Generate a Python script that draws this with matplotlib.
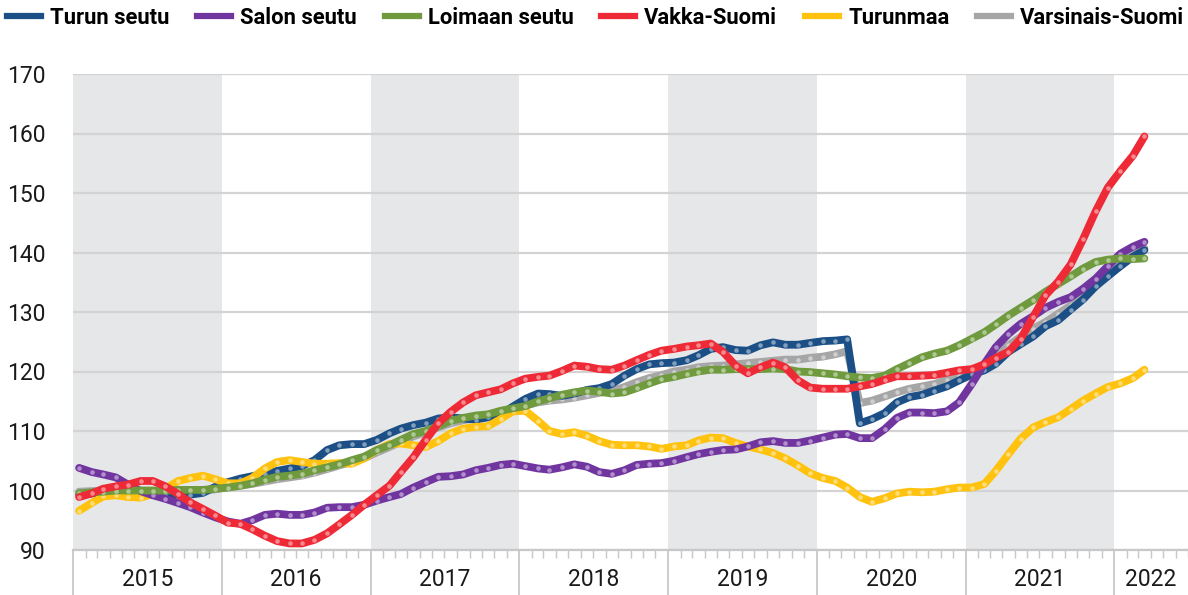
import numpy as np
import pandas as pd
import matplotlib
matplotlib.use("Agg")
import matplotlib.pyplot as plt
import matplotlib.dates as mdates
from matplotlib.transforms import blended_transform_factory

plt.rcParams['font.family'] = ['Roboto', 'DejaVu Sans']

# monthly index values, Jan 2015 - Mar 2022
months = pd.date_range("2015-01-01", "2022-03-01", freq="MS") + pd.Timedelta(days=15)

turku = [99.3, 99.5, 99.7, 99.8, 99.8, 99.7, 99.6, 99.4, 99.3, 99.3, 99.6, 100.6,
         101.4, 102.0, 102.4, 102.8, 103.3, 103.7, 104.1, 105.1, 106.8, 107.6, 107.8, 107.8,
         108.5, 109.6, 110.4, 111.0, 111.4, 112.1, 112.3, 112.1, 111.9, 112.3, 112.8, 114.1,
         115.4, 116.3, 116.2, 115.9, 116.3, 116.9, 117.2, 117.9, 119.3, 120.4, 121.2, 121.4,
         121.5, 121.9, 122.7, 123.8, 124.1, 123.6, 123.5, 124.4, 124.9, 124.5, 124.5, 124.8,
         125.1, 125.2, 125.4, 111.3, 112.0, 113.0, 114.8, 115.7, 116.1, 116.8, 117.5, 118.5,
         119.5, 120.2, 121.3, 123.3, 124.6, 125.9, 127.6, 128.6, 130.4, 132.1, 134.3, 136.0,
         137.7, 139.3, 140.4]
salo = [103.8, 103.1, 102.7, 102.2, 101.0, 99.9, 99.2, 98.6, 97.9, 97.2, 96.3, 95.5,
        94.8, 94.4, 95.0, 95.9, 96.1, 95.9, 95.9, 96.3, 97.1, 97.2, 97.2, 97.6,
        98.3, 98.9, 99.4, 100.5, 101.4, 102.3, 102.4, 102.7, 103.4, 103.8, 104.3, 104.5,
        104.1, 103.7, 103.5, 103.9, 104.4, 104.0, 103.1, 102.8, 103.4, 104.3, 104.5, 104.6,
        105.0, 105.6, 106.1, 106.5, 106.8, 106.9, 107.4, 108.1, 108.3, 108.0, 108.0, 108.4,
        108.9, 109.4, 109.5, 108.8, 108.8, 110.3, 112.2, 113.1, 113.1, 113.0, 113.3, 114.8,
        117.9, 121.3, 124.1, 126.3, 128.0, 129.3, 130.7, 131.7, 132.5, 133.9, 135.6, 137.7,
        139.8, 141.0, 141.8]
loimaa = [99.5, 99.7, 99.8, 100.0, 100.0, 100.0, 100.0, 100.0, 100.1, 100.1, 100.1, 100.3,
          100.5, 100.8, 101.2, 101.8, 102.3, 102.5, 102.8, 103.4, 103.9, 104.4, 105.1, 105.7,
          106.8, 107.6, 108.5, 109.5, 110.0, 110.8, 111.7, 112.2, 112.6, 112.8, 113.4, 113.8,
          114.2, 115.0, 115.5, 116.1, 116.5, 116.8, 116.6, 116.3, 116.5, 117.2, 118.0, 118.7,
          119.1, 119.6, 120.0, 120.3, 120.3, 120.4, 120.4, 120.4, 120.5, 120.4, 120.0, 119.9,
          119.7, 119.5, 119.2, 119.0, 118.9, 119.3, 120.4, 121.4, 122.4, 123.0, 123.5, 124.4,
          125.5, 126.6, 127.9, 129.4, 130.7, 132.0, 133.4, 134.7, 136.0, 137.3, 138.4, 138.8,
          139.0, 138.9, 139.0]
vakka = [98.9, 99.5, 100.3, 100.7, 101.0, 101.6, 101.6, 100.7, 99.4, 98.0, 96.9, 95.8,
         94.6, 94.4, 93.5, 92.4, 91.5, 91.1, 91.1, 91.7, 92.8, 94.3, 95.9, 97.6,
         99.2, 100.8, 103.1, 105.6, 108.5, 111.3, 113.2, 114.8, 116.0, 116.5, 117.0, 118.0,
         118.8, 119.1, 119.3, 120.1, 121.0, 120.8, 120.4, 120.3, 121.0, 121.9, 122.8, 123.5,
         123.8, 124.2, 124.4, 124.7, 123.3, 121.0, 119.7, 120.7, 121.5, 120.7, 118.5, 117.3,
         117.1, 117.1, 117.1, 117.5, 117.9, 118.6, 119.2, 119.2, 119.3, 119.4, 119.8, 120.2,
         120.4, 121.2, 122.3, 123.3, 125.5, 129.2, 132.8, 135.1, 138.0, 142.2, 146.9, 150.9,
         153.7, 156.3, 159.5]
turunmaa = [96.6, 97.9, 99.0, 99.2, 98.9, 98.8, 99.4, 100.3, 101.6, 102.1, 102.5, 101.9,
            101.2, 101.2, 102.1, 103.7, 104.8, 105.1, 104.8, 104.5, 104.5, 104.6, 104.5, 105.4,
            106.8, 107.8, 107.9, 107.6, 107.3, 108.3, 109.6, 110.4, 110.7, 110.8, 112.0, 113.3,
            113.4, 111.7, 110.0, 109.5, 109.8, 109.2, 108.3, 107.7, 107.6, 107.6, 107.4, 107.0,
            107.4, 107.6, 108.4, 108.9, 108.8, 108.0, 107.4, 106.9, 106.3, 105.4, 104.2, 102.9,
            102.1, 101.6, 100.5, 98.9, 98.1, 98.7, 99.5, 99.8, 99.7, 99.8, 100.2, 100.5,
            100.5, 101.1, 103.3, 106.1, 108.7, 110.6, 111.5, 112.3, 113.7, 115.1, 116.3, 117.4,
            118.0, 118.9, 120.3]
varsinais = [99.8, 99.9, 100.0, 100.0, 100.0, 99.9, 99.8, 99.8, 99.8, 99.8, 99.9, 100.2,
             100.5, 100.8, 101.1, 101.5, 101.9, 102.2, 102.5, 103.0, 103.6, 104.2, 104.8, 105.4,
             106.4, 107.3, 108.2, 109.1, 109.8, 110.6, 111.3, 111.8, 112.2, 112.6, 113.1, 113.7,
             114.3, 114.8, 115.1, 115.3, 115.6, 116.0, 116.4, 116.7, 117.4, 118.2, 118.9, 119.4,
             120.0, 120.3, 120.7, 120.9, 121.0, 121.2, 121.4, 121.6, 121.8, 122.0, 122.0, 122.3,
             122.5, 122.9, 123.4, 114.7, 115.1, 115.8, 116.5, 117.1, 117.5, 117.9, 118.6, 119.3,
             120.2, 121.3, 123.0, 124.4, 125.8, 127.2, 128.3, 129.7, 131.1, 132.6, 134.5, 136.5,
             138.7, 139.8, 140.7]

names = ["Turun seutu", "Salon seutu", "Loimaan seutu", "Vakka-Suomi", "Turunmaa", "Varsinais-Suomi"]
colors = ["#1b4f86", "#7135a0", "#6f9a3e", "#ee2a36", "#ffc20e", "#a6a6a6"]
series = [turku, salo, loimaa, vakka, turunmaa, varsinais]
zorders = [4, 6, 7, 8, 5, 3]

years = list(range(2015, 2023))
shaded_years = [2015, 2017, 2019, 2021]

fig = plt.figure(figsize=(11.88, 5.95), dpi=100)
ax = fig.add_axes([73 / 1188, 45 / 595, 1 - 73 / 1188, 476 / 595])

x0 = pd.Timestamp("2015-01-01")
x1 = pd.Timestamp("2022-07-01")

for yr in shaded_years:
    ax.axvspan(pd.Timestamp(f"{yr}-01-01"), pd.Timestamp(f"{yr + 1}-01-01"),
               color="#e6e7e9", lw=0, zorder=0)

for v in range(90, 171, 10):
    ax.axhline(v, color="#d3d3d3", lw=1.6, zorder=1)

handles = []
for name, col, vals, z in zip(names, colors, series, zorders):
    ax.plot(months, vals, color=col, lw=5.6, solid_capstyle="round",
            solid_joinstyle="round", zorder=z)
    ax.plot(months, vals, ls="none", marker="o", ms=3.3, mfc="white",
            mec="none", alpha=0.45, zorder=z + 0.1)
    h, = plt.plot([], [], color=col, lw=4.5)
    handles.append(h)

ax.set_xlim(x0, x1)
ax.set_ylim(90, 170)
ax.set_yticks(range(90, 171, 10))
ax.tick_params(axis="y", length=0, pad=20, labelsize=16.5, labelcolor="#1a1a1a")

for s in ["left", "right", "top"]:
    ax.spines[s].set_visible(False)
ax.spines["bottom"].set_color("#c8c8c8")
ax.spines["bottom"].set_linewidth(1.6)

ax.xaxis.set_major_locator(mdates.YearLocator())
ax.xaxis.set_minor_locator(mdates.MonthLocator())
ax.tick_params(axis="x", which="major", length=34, width=1.3, color="#c8c8c8",
               labelbottom=False)
ax.tick_params(axis="x", which="minor", length=6, width=1.0, color="#c8c8c8")

trans = blended_transform_factory(ax.transData, ax.transAxes)
for yr in years:
    start = pd.Timestamp(f"{yr}-01-01")
    end = min(pd.Timestamp(f"{yr + 1}-01-01"), x1)
    mid = start + (end - start) / 2
    ax.text(mid, -0.062, str(yr), transform=trans, ha="center", va="center",
            fontsize=16.5, color="#1a1a1a")

fig.legend(handles, names, loc="upper left", bbox_to_anchor=(7 / 1188, 0.988), ncol=6,
           frameon=False, handlelength=1.55, handletextpad=0.4, columnspacing=1.28,
           borderpad=0, borderaxespad=0,
           prop={"size": 15.8, "weight": "bold"})

fig.savefig("out.png", dpi=100)
